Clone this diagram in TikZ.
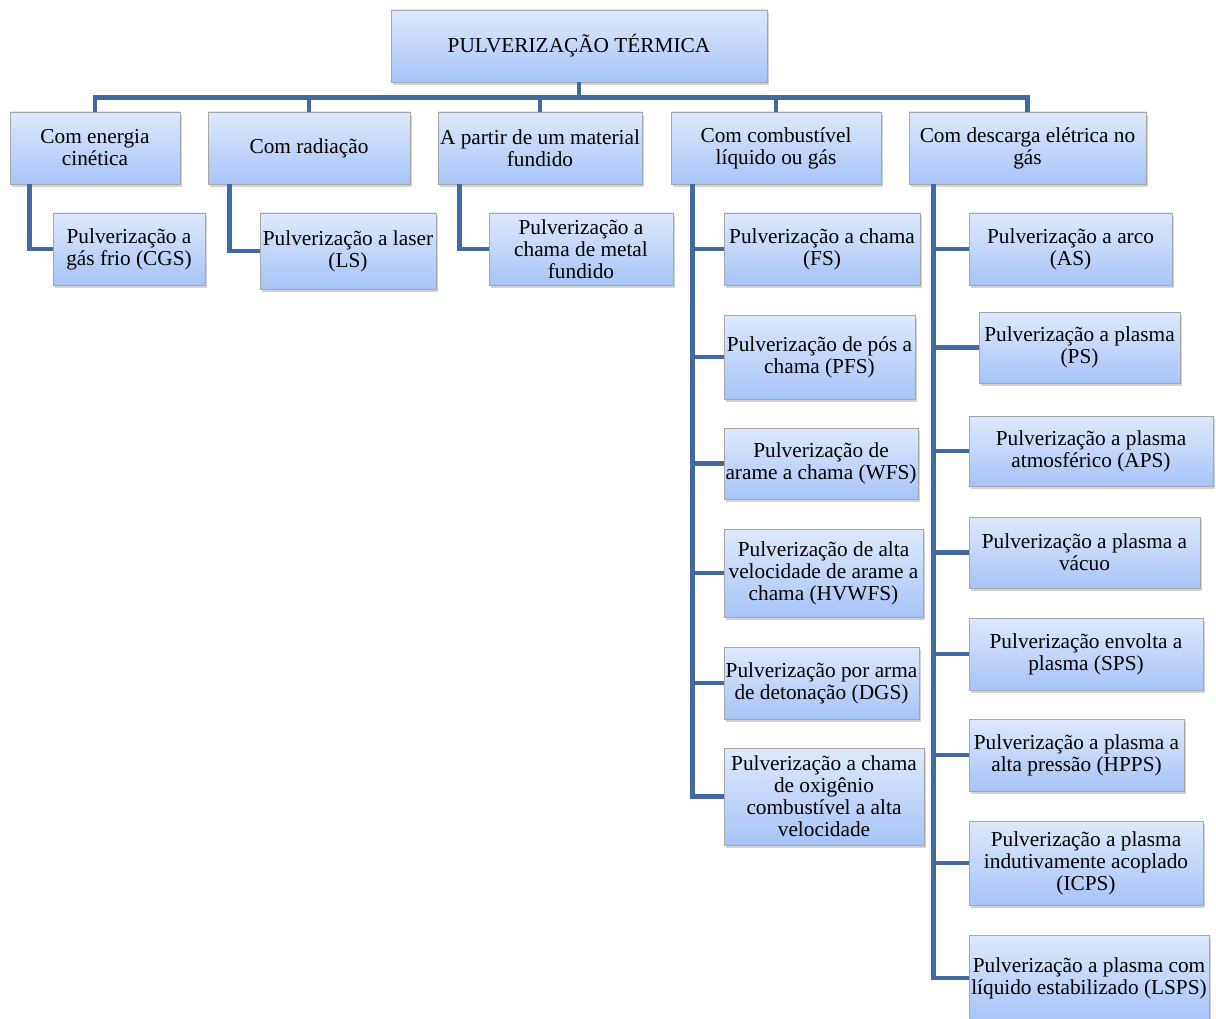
\documentclass[tikz,border=0pt]{standalone}
\usepackage{fontspec}
\setmainfont{Liberation Serif}
\usetikzlibrary{shadows}
\definecolor{linkblue}{RGB}{66,106,160}
\definecolor{boxtop}{RGB}{222,233,252}
\definecolor{boxbot}{RGB}{166,196,247}
\tikzset{
  box/.style={draw=gray!70,line width=0.8pt,top color=boxtop,bottom color=boxbot,
    drop shadow={shadow xshift=2pt,shadow yshift=-3pt,opacity=0.35},
    align=center,inner sep=1pt,font=\fontsize{21.3}{22}\selectfont},
  link/.style={line width=4.5pt,linkblue},
}

\begin{document}
\begin{tikzpicture}[x=1pt,y=-1pt]
    \useasboundingbox (0,0) rectangle (1216,1019);
    \begin{scope}[every node/.append style={box}]
      \node[minimum width=376pt,minimum height=72pt] (root) at (579,46) {PULVERIZAÇÃO TÉRMICA};
      \node[minimum width=170pt,minimum height=72pt] (kin) at (95,148) {Com energia\\cinética};
      \node[minimum width=202pt,minimum height=72pt] (rad) at (309,148) {Com radiação};
      \node[minimum width=204pt,minimum height=72pt] (mel) at (540,148) {A partir de um material\\fundido};
      \node[minimum width=210pt,minimum height=72pt] (fue) at (776,148) {Com combustível\\líquido ou gás};
      \node[minimum width=237pt,minimum height=72pt] (ele) at (1027.5,148) {Com descarga elétrica no\\gás};
      % first three columns
      \node[minimum width=152pt,minimum height=72pt] (cgs) at (129,249) {Pulverização a\\gás frio (CGS)};
      \node[minimum width=176pt,minimum height=76pt] (ls) at (348,251) {Pulverização a laser\\(LS)};
      \node[minimum width=184pt,minimum height=72pt] (mf) at (581,249) {Pulverização a\\chama de metal\\fundido};
      % fuel column
      \node[minimum width=196pt,minimum height=72pt] (fs) at (822,249) {Pulverização a chama\\(FS)};
      \node[minimum width=191pt,minimum height=84pt] (pfs) at (819.5,357) {Pulverização de pós a\\chama (PFS)};
      \node[minimum width=194pt,minimum height=71pt] (wfs) at (821,463.5) {Pulverização de\\arame a chama (WFS)};
      \node[minimum width=199pt,minimum height=88pt] (hvwfs) at (823.5,573) {Pulverização de alta\\velocidade de arame a\\chama (HVWFS)};
      \node[minimum width=195pt,minimum height=72pt] (dgs) at (821.5,683) {Pulverização por arma\\de detonação (DGS)};
      \node[minimum width=200pt,minimum height=97pt] (hvof) at (824,796.5) {Pulverização a chama\\de oxigênio\\combustível a alta\\velocidade};
      % electric column
      \node[minimum width=203pt,minimum height=72pt] (as) at (1070.5,249) {Pulverização a arco\\(AS)};
      \node[minimum width=201pt,minimum height=71pt] (ps) at (1079.5,347.5) {Pulverização a plasma\\(PS)};
      \node[minimum width=244pt,minimum height=70pt] (aps) at (1091,451) {Pulverização a plasma\\atmosférico (APS)};
      \node[minimum width=231pt,minimum height=71pt] (vps) at (1084.5,552.5) {Pulverização a plasma a\\vácuo};
      \node[minimum width=234pt,minimum height=72pt] (sps) at (1086,654) {Pulverização envolta a\\plasma (SPS)};
      \node[minimum width=215pt,minimum height=72pt] (hpps) at (1076.5,755) {Pulverização a plasma a\\alta pressão (HPPS)};
      \node[minimum width=234pt,minimum height=84pt] (icps) at (1086,863) {Pulverização a plasma\\indutivamente acoplado\\(ICPS)};
      \node[minimum width=240pt,minimum height=86pt] (lsps) at (1089,978) {Pulverização a plasma com\\líquido estabilizado (LSPS)};
    \end{scope}
    \foreach \t in {kin,rad,mel,fue,ele}
      \draw[link] (root.south) -- ++(0,15) -| (\t.north);
    \draw[link] ([xshift=20pt]kin.south west) |- (cgs.west);
    \draw[link] ([xshift=22pt]rad.south west) |- (ls.west);
    \draw[link] ([xshift=22pt]mel.south west) |- (mf.west);
    \foreach \t in {fs,pfs,wfs,hvwfs,dgs,hvof}
      \draw[link] ([xshift=22pt]fue.south west) |- (\t.west);
    \foreach \t in {as,ps,aps,vps,sps,hpps,icps,lsps}
      \draw[link] ([xshift=25pt]ele.south west) |- (\t.west);
\end{tikzpicture}
\end{document}
